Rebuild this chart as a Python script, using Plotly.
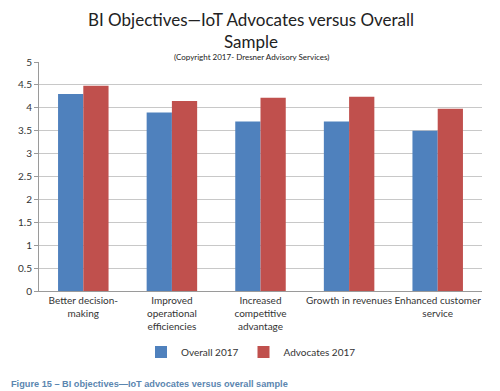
import plotly.graph_objects as go

categories = ["Better decision-<br>making", "Improved<br>operational<br>efficiencies",
              "Increased<br>competitive<br>advantage", "Growth in revenues",
              "Enhanced customer<br>service"]
overall_2017 = [4.3, 3.9, 3.7, 3.7, 3.5]
advocates_2017 = [4.48, 4.15, 4.22, 4.24, 3.98]
y_ticks = [0, 0.5, 1, 1.5, 2, 2.5, 3, 3.5, 4, 4.5, 5]
y_tick_labels = ["0", "0.5", "1", "1.5", "2", "2.5", "3", "3.5", "4", "4.5", "5"]

FONT = "Lato"
OFF = 8  # page body margin
WIDTH, HEIGHT = 500 - OFF, 391 - OFF
L, T = 39 - OFF, 62 - OFF
R = 18
PW = WIDTH - L - R
PH = 229
B = HEIGHT - T - PH


def px(pix):
    return (pix - OFF - L) / PW


def py(pix):
    return (HEIGHT - B - (pix - OFF)) / PH


fig = go.Figure()
fig.add_trace(go.Bar(name="Overall 2017", x=categories, y=overall_2017,
                     marker=dict(color="#4F81BD", line=dict(width=0))))
fig.add_trace(go.Bar(name="Advocates 2017", x=categories, y=advocates_2017,
                     marker=dict(color="#C0504D", line=dict(width=0))))

annotations = [
    dict(text="BI Objectives\u2014IoT Advocates versus Overall<br>Sample", x=px(251), y=py(8),
         xref="paper", yref="paper", xanchor="center", yanchor="top", borderpad=0,
         align="center", showarrow=False, font=dict(size=17, color="#222222")),
    dict(text="(Copyright 2017- Dresner Advisory Services)", x=px(251), y=py(56.5),
         xref="paper", yref="paper", xanchor="center", yanchor="middle", borderpad=0,
         showarrow=False, font=dict(size=8, color="#222222")),
    dict(text="<b>Figure 15 \u2013 BI objectives\u2014IoT advocates versus overall sample</b>",
         x=px(9), y=py(384), xref="paper", yref="paper", xanchor="left", yanchor="middle",
         showarrow=False,
         font=dict(family="Liberation Sans", size=9.2, color="#5b86b0")),
]

fig.update_layout(
    width=WIDTH, height=HEIGHT,
    margin=dict(l=L, r=R, t=T, b=B, autoexpand=False),
    paper_bgcolor="white", plot_bgcolor="white",
    barmode="group", bargap=0.43, bargroupgap=0,
    font=dict(family=FONT, size=10, color="#333333"),
    showlegend=True,
    legend=dict(orientation="h", x=px(251), xanchor="center", y=py(352), yanchor="middle",
                font=dict(size=10, color="#333333"), itemwidth=30,
                traceorder="normal", tracegroupgap=0),
    xaxis=dict(showgrid=False, showline=True, linecolor="#9a9a9a", linewidth=1,
               ticks="", tickfont=dict(size=10, color="#333333"), tickangle=0),
    yaxis=dict(range=[0, 5], tickvals=y_ticks, ticktext=y_tick_labels,
               showgrid=True, gridcolor="#c8c8c8", gridwidth=1,
               showline=True, linecolor="#9a9a9a", linewidth=1,
               ticks="outside", ticklen=4, tickcolor="#9a9a9a",
               tickfont=dict(size=10, color="#333333"), zeroline=False),
    annotations=annotations,
)

fig.write_html("out.html")
